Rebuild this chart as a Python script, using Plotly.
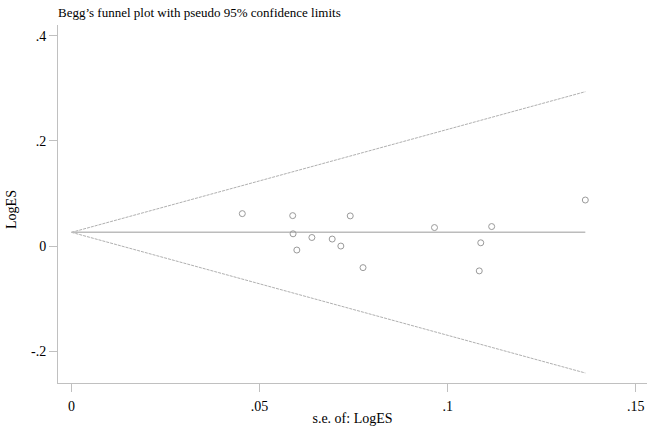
import plotly.graph_objects as go

# Study data
se = [0.0454, 0.0588, 0.0741, 0.0965, 0.0589, 0.0639, 0.0693, 0.0716,
      0.0599, 0.0775, 0.1117, 0.1088, 0.1084, 0.1366]
log_es = [0.0617, 0.0579, 0.0574, 0.0352, 0.0233, 0.0163, 0.0133, 0.0000,
          -0.0076, -0.0411, 0.0371, 0.0062, -0.0473, 0.0876]
pooled = 0.0261
z = 1.96

x_ticks = [0, 0.05, 0.1, 0.15]
x_tick_text = ["0", ".05", ".1", ".15"]
y_ticks = [-0.2, 0, 0.2, 0.4]
y_tick_text = ["-.2", "0", ".2", ".4"]

se_max = max(se)
font = "Liberation Serif, Times New Roman, serif"

W, H = 650, 427
ML, MR, MT, MB = 58, 3, 25, 42
PW, PH = W - ML - MR, H - MT - MB

fig = go.Figure()
fig.add_trace(go.Scatter(x=[0, se_max], y=[pooled, pooled + z * se_max], mode="lines",
                         line=dict(color="#b0b0b0", width=1, dash="3px,1px"), showlegend=False))
fig.add_trace(go.Scatter(x=[0, se_max], y=[pooled, pooled - z * se_max], mode="lines",
                         line=dict(color="#b0b0b0", width=1, dash="3px,1px"), showlegend=False))
fig.add_trace(go.Scatter(x=[0, se_max], y=[pooled, pooled], mode="lines",
                         line=dict(color="#bcbcbc", width=1.5), showlegend=False))
fig.add_trace(go.Scatter(x=se, y=log_es, mode="markers",
                         marker=dict(symbol="circle-open", size=6, color="#9a9a9a",
                                     line=dict(width=1, color="#9a9a9a")),
                         showlegend=False))

fig.update_layout(
    width=W, height=H,
    margin=dict(l=ML, r=MR, t=MT, b=MB),
    paper_bgcolor="white", plot_bgcolor="white",
    font=dict(family=font, color="black", size=13),
    title=dict(text="Begg\u2019s funnel plot with pseudo 95% confidence limits",
               x=ML / W, xanchor="left", y=1 - 12 / H, yanchor="middle",
               font=dict(family=font, size=13, color="black")),
    annotations=[dict(text="LogES", textangle=-90, showarrow=False,
                      xref="paper", yref="paper",
                      x=(12 - ML) / PW, y=(MT + PH - 211) / PH,
                      xanchor="center", yanchor="middle",
                      font=dict(family=font, size=14, color="black"))],
)
fig.update_xaxes(range=[-0.0036, 0.153], tickvals=x_ticks, ticktext=x_tick_text,
                 showgrid=False, zeroline=False, showline=True, linecolor="#c0c0c0",
                 linewidth=1, ticks="outside", ticklen=8, tickcolor="#c0c0c0",
                 tickfont=dict(family=font, size=14), ticklabelstandoff=2,
                 title=dict(text="s.e. of: LogES", font=dict(family=font, size=14), standoff=0))
fig.update_yaxes(range=[-0.2607, 0.4208], tickvals=y_ticks, ticktext=y_tick_text,
                 showgrid=False, zeroline=False, showline=True, linecolor="#c0c0c0",
                 linewidth=1, ticks="outside", ticklen=8, tickcolor="#c0c0c0",
                 tickfont=dict(family=font, size=14))

fig.write_html("out.html", config={"displayModeBar": False},
               post_script="document.body.style.margin='0';")
